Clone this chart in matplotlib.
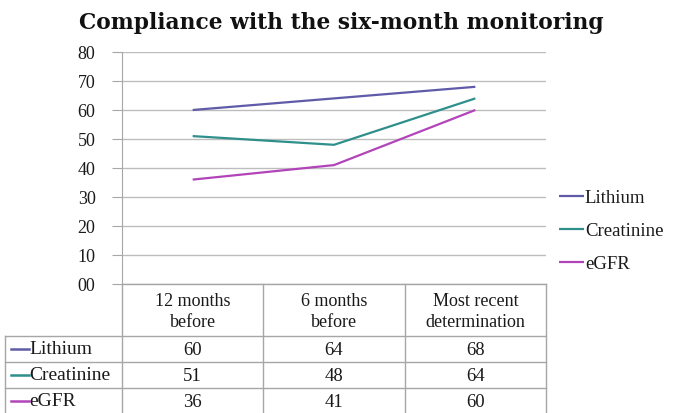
import matplotlib
matplotlib.use("Agg")
import matplotlib.pyplot as plt
from matplotlib.lines import Line2D

# Chart data
categories = ["12 months\nbefore", "6 months\nbefore", "Most recent\ndetermination"]
series_names = ["Lithium", "Creatinine", "eGFR"]
lithium = [60, 64, 68]
creatinine = [51, 48, 64]
egfr = [36, 41, 60]
y_ticks = [0, 10, 20, 30, 40, 50, 60, 70, 80]
y_tick_labels = ["00", "10", "20", "30", "40", "50", "60", "70", "80"]
title = "Compliance with the six-month monitoring"

series_values = [lithium, creatinine, egfr]
colors = ["#5F5BA8", "#2F8F8B", "#B244B9"]

W, H = 678, 414
fig = plt.figure(figsize=(W / 100, H / 100), dpi=100)
fig.patch.set_facecolor("white")

serif = ["Liberation Serif", "DejaVu Serif"]
grid_col = "#BDBDBD"
border_col = "#A6A6A6"
text_col = "#1A1A1A"

# Plot area in pixel units
px_left, px_right = 122, 546
px_top, px_bottom = 53, 285

ax = fig.add_axes([px_left / W, 1 - px_bottom / H,
                   (px_right - px_left) / W, (px_bottom - px_top) / H])
n = len(categories)
for name, vals, c in zip(series_names, series_values, colors):
    ax.plot(range(n), vals, color=c, lw=1.6, label=name, solid_capstyle="butt")

ax.set_xlim(-0.5, n - 0.5)
ax.set_ylim(0, 80)
ax.set_yticks(y_ticks)
ax.set_yticklabels(y_tick_labels, family=serif, fontsize=13, color=text_col)
ax.set_xticks([])
ax.yaxis.grid(True, color=grid_col, lw=1.0)
ax.set_axisbelow(True)
for s in ["top", "right", "bottom"]:
    ax.spines[s].set_visible(False)
ax.spines["left"].set_color(border_col)
ax.tick_params(axis="y", length=7, color=border_col, pad=12)

leg = ax.legend(loc="center left", bbox_to_anchor=(0.992, 0.23), frameon=False,
                prop={"family": serif, "size": 13.5}, handlelength=1.3,
                handletextpad=0.05, labelspacing=0.85)
for t in leg.get_texts():
    t.set_color(text_col)

fig.text(0.503, 1 - 23 / H, title, ha="center", va="center",
         family=["DejaVu Serif"], fontweight="bold", fontsize=15.7, color="#111111")

# Data table beneath the plot, drawn in pixel coordinates
tx = fig.add_axes([0, 0, 1, 1])
tx.set_xlim(0, W)
tx.set_ylim(H, 0)
tx.axis("off")

col_edges = [px_left + i * (px_right - px_left) / n for i in range(n + 1)]
row_head_left = 5
header_bottom = 337
row_h = 26
row_edges = [header_bottom + i * row_h for i in range(len(series_names) + 1)]

# Horizontal rules
tx.plot([px_left, px_right], [px_bottom, px_bottom], color=border_col, lw=1.0)
for y in row_edges[:-1]:
    tx.plot([row_head_left, px_right], [y, y], color=border_col, lw=1.0)
# Vertical rules
for x in col_edges:
    tx.plot([x, x], [px_bottom, H], color=border_col, lw=1.0)
tx.plot([row_head_left, row_head_left], [header_bottom, H], color=border_col, lw=1.0)

# Column headers
for i, cat in enumerate(categories):
    xc = (col_edges[i] + col_edges[i + 1]) / 2
    tx.text(xc, (px_bottom + header_bottom) / 2 + 1, cat, ha="center", va="center",
            family=serif, fontsize=13, color=text_col, linespacing=1.3)

# Rows: legend key, series name, values
for r, (name, vals, c) in enumerate(zip(series_names, series_values, colors)):
    yc = (row_edges[r] + row_edges[r + 1]) / 2
    tx.add_line(Line2D([11, 29], [yc, yc], color=c, lw=1.8))
    tx.text(29, yc, name, ha="left", va="center", family=serif,
            fontsize=14, color=text_col)
    for i, v in enumerate(vals):
        xc = (col_edges[i] + col_edges[i + 1]) / 2
        tx.text(xc, yc + 1, str(v), ha="center", va="center", family=serif,
                fontsize=13.5, color=text_col)

fig.savefig("out.png", dpi=100, facecolor="white")
